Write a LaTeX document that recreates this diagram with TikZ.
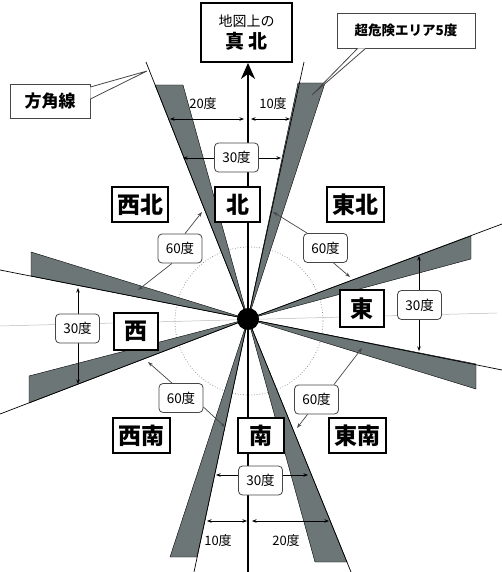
\documentclass[tikz,border=0pt]{standalone}
\usepackage{fontspec}
\setmainfont{Noto Sans CJK JP}
\usetikzlibrary{arrows.meta}
\definecolor{zoneGray}{RGB}{108,118,118}
\definecolor{edgeGray}{RGB}{70,70,70}
\tikzset{
  dirBox/.style={rectangle, draw=black, line width=1.5pt, fill=white, minimum height=35pt, inner sep=0pt, font=\fontsize{23}{23}\selectfont\bfseries},
  degBox/.style={rectangle, rounded corners=4pt, draw=edgeGray, line width=0.8pt, fill=white, minimum width=44pt, minimum height=29pt, inner sep=0pt, font=\fontsize{13.5}{13.5}\selectfont},
  noteBox/.style={rectangle, draw=edgeGray, line width=0.8pt, fill=white, inner sep=0pt},
  zone/.style={fill=zoneGray, draw=black, line width=0.4pt},
  dirLine/.style={line width=0.7pt},
  dimArrow/.style={{Stealth[length=4.5pt,width=3.5pt]}-{Stealth[length=4.5pt,width=3.5pt]}, line width=0.7pt},
  pointArrow/.style={-{Stealth[length=5pt,width=3.5pt]}, line width=0.7pt, draw=edgeGray},
  degText/.style={font=\fontsize{13}{13}\selectfont}
}
\begin{document}
\begin{tikzpicture}[x=1pt,y=-1pt]
\useasboundingbox (0,0) rectangle (502,572);
\coordinate (center) at (248,319);

% faint guide line and circle
\draw[gray!55, line width=0.5pt] (0,326) -- (497,313);
\draw[gray, dotted, line width=0.7pt] (249,321) circle[radius=74pt];

% danger zones (5 degrees)
\filldraw[zone] (center) -- (155,85) -- (183,85) -- cycle;
\filldraw[zone] (center) -- (298,83) -- (325,83) -- cycle;
\filldraw[zone] (center) -- (471,236) -- (471,259) -- cycle;
\filldraw[zone] (center) -- (476,364) -- (476,389) -- cycle;
\filldraw[zone] (center) -- (315,562) -- (347,562) -- cycle;
\filldraw[zone] (center) -- (170,557) -- (197,557) -- cycle;
\filldraw[zone] (center) -- (29,376) -- (29,403) -- cycle;
\filldraw[zone] (center) -- (31,252) -- (31,276) -- cycle;

% direction lines
\draw[dirLine] (center) -- (146,62);
\draw[dirLine] (center) -- (304,62);
\draw[dirLine] (center) -- (502,224);
\draw[dirLine] (center) -- (502,370);
\draw[dirLine] (center) -- (351,572);
\draw[dirLine] (center) -- (194,572);
\draw[dirLine] (center) -- (0,414);
\draw[dirLine] (center) -- (0,270);

% true north
\node[rectangle, draw=black, line width=1.8pt, fill=white, minimum width=91pt, minimum height=59pt, inner sep=0pt, align=center] (trueNorth) at (246.5,32.5)
  {{\fontsize{14}{14}\selectfont 地図上の}\\[4pt]{\fontsize{19}{19}\selectfont\bfseries 真\,北}};
\draw[line width=2pt, -{Stealth[length=16pt,width=14pt,inset=5pt]}] (center) -- (center |- trueNorth.south);
\draw[line width=1.4pt] (center) -- (248,572);
\fill (center) circle[radius=11pt];

% measures at the top
\coordinate (nDimA) at (170,119);
\coordinate (nDimB) at (244,119);
\coordinate (nDimC) at (251,119);
\coordinate (nDimD) at (290,119);
\draw[dimArrow] (nDimA) -- (nDimB);
\draw[dimArrow] (nDimC) -- (nDimD);
\node[degText] (nLeftDeg) at (203,104) {20度};
\node[degText] (nRightDeg) at (273,104) {10度};
\coordinate (n30A) at (183,158);
\coordinate (n30B) at (281,158);
\draw[dimArrow] (n30A) -- (n30B);
\node[degBox] (north30) at (236.5,157.5) {30度};

% measures at the bottom
\coordinate (sDimA) at (207,521);
\coordinate (sDimB) at (247,521);
\coordinate (sDimC) at (252,521);
\coordinate (sDimD) at (329,521);
\draw[dimArrow] (sDimA) -- (sDimB);
\draw[dimArrow] (sDimC) -- (sDimD);
\node[degText] (sLeftDeg) at (218,541) {10度};
\node[degText] (sRightDeg) at (286,541) {20度};
\coordinate (s30A) at (216,475);
\coordinate (s30B) at (308,475);
\draw[dimArrow] (s30A) -- (s30B);
\node[degBox] (south30) at (260.5,480.5) {30度};

% measures east and west
\coordinate (e30A) at (419,256);
\coordinate (e30B) at (419,351);
\draw[dimArrow] (e30A) -- (e30B);
\node[degBox] (east30) at (419.5,305) {30度};
\coordinate (w30A) at (78,288);
\coordinate (w30B) at (78,384);
\draw[dimArrow] (w30A) -- (w30B);
\node[degBox] (west30) at (77.5,328.5) {30度};

% direction names
\node[dirBox, minimum width=45pt] (northBox) at (237.5,204.5) {北};
\node[dirBox, minimum width=56pt] (nwBox) at (140,204.5) {西北};
\node[dirBox, minimum width=57pt] (neBox) at (355.5,204.5) {東北};
\node[dirBox, minimum width=44pt, minimum height=37pt] (eastBox) at (362,308.5) {東};
\node[dirBox, minimum width=44pt, minimum height=37pt] (westBox) at (136,331.5) {西};
\node[dirBox, minimum width=46pt] (southBox) at (261,435.5) {南};
\node[dirBox, minimum width=57pt] (swBox) at (141.5,435.5) {西南};
\node[dirBox, minimum width=57pt] (seBox) at (357.5,435.5) {東南};

% 60 degree sectors
\node[degBox] (nw60) at (180,248.5) {60度};
\node[degBox] (ne60) at (325.5,248) {60度};
\node[degBox] (sw60) at (181,398) {60度};
\node[degBox] (se60) at (316.5,399.5) {60度};
\coordinate (nwUpTip) at (202,212);
\coordinate (nwDownTip) at (138,290);
\coordinate (neUpTip) at (273,212);
\coordinate (neDownTip) at (350,277);
\coordinate (swUpTip) at (148,362);
\coordinate (swDownTip) at (225,427);
\coordinate (seUpTip) at (362,348);
\coordinate (seDownTip) at (297,428);
\draw[pointArrow] ([xshift=5pt]nw60.north) -- (nwUpTip);
\draw[pointArrow] ([xshift=-8pt]nw60.south) -- (nwDownTip);
\draw[pointArrow] ([xshift=4pt]ne60.north west) -- (neUpTip);
\draw[pointArrow] ([xshift=8pt]ne60.south) -- (neDownTip);
\draw[pointArrow] ([xshift=-9pt]sw60.north) -- (swUpTip);
\draw[pointArrow] ([yshift=-9pt]sw60.east) -- (swDownTip);
\draw[pointArrow] ([xshift=-5pt]se60.north east) -- (seUpTip);
\draw[pointArrow] ([xshift=-9pt]se60.south) -- (seDownTip);

% callouts
\node[noteBox, minimum width=80pt, minimum height=34pt, font=\fontsize{17}{17}\selectfont\bfseries] (compassLine) at (50,101) {方角線};
\coordinate (compassTip) at (147,71);
\draw[line width=0.8pt, draw=edgeGray, fill=white] ([yshift=14pt]compassLine.east) -- (compassTip) -- ([yshift=2pt]compassLine.east);
\node[noteBox, minimum width=138pt, minimum height=35pt, font=\fontsize{13.5}{13.5}\selectfont\bfseries] (dangerNote) at (406,30.5) {超危険エリア5度};
\coordinate (dangerTip) at (312,95);
\draw[line width=0.8pt, draw=edgeGray, fill=white] ([xshift=21pt]dangerNote.south west) -- (dangerTip) -- ([xshift=29pt]dangerNote.south west);
\end{tikzpicture}
\end{document}
